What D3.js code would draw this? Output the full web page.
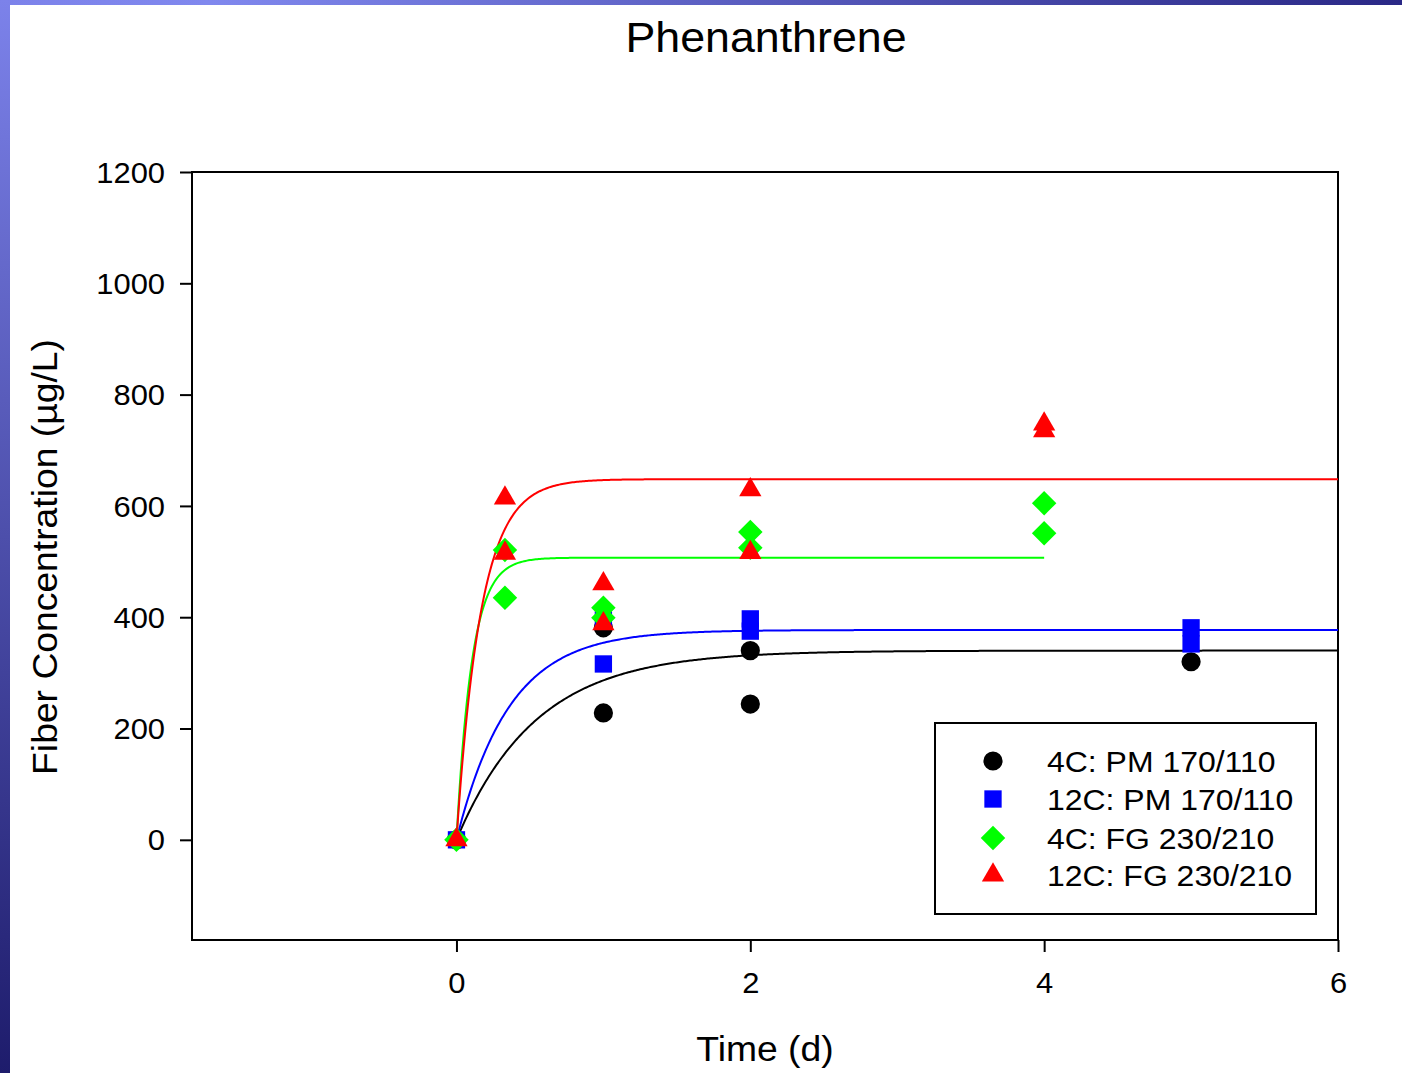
<!DOCTYPE html>
<html>
<head>
<meta charset="utf-8">
<script src="https://cdn.jsdelivr.net/npm/d3@7"></script>
<style>
  body { margin: 0; background: #fff; }
  svg text { font-family: Arial, "Liberation Sans", sans-serif; fill: #000; }
</style>
</head>
<body>
<div id="chart"></div>
<script>
// series names, colours and symbols
const seriesNames = ['4C: PM 170/110', '12C: PM 170/110', '4C: FG 230/210', '12C: FG 230/210'];
const seriesColors = ['#000000', '#0000ff', '#00ff00', '#ff0000'];

// measured points [time (d), concentration (ug/L)]
const pm4 = [[0, 0], [1, 381], [1, 228], [2, 340], [2, 244], [5, 320]];
const pm12 = [[0, 0], [1, 395], [1, 316], [2, 397], [2, 375], [5, 381], [5, 352]];
const fg4 = [[0, 0], [0.33, 521], [0.33, 435], [1, 417], [1, 399], [2, 553], [2, 525], [4, 605], [4, 551]];
const fg12 = [[0, 0], [0.33, 614], [0.33, 515], [1, 460], [1, 388], [2, 629], [2, 516], [4, 747], [4, 735]];

// fitted first-order uptake: C = Cmax * (1 - exp(-k t)), drawn to tEnd
const fitCmax = [340, 377, 507, 648];
const fitK = [1.85, 2.8, 9.5, 6.0];
const fitEnd = [6, 6, 4, 6];

const xTicks = [0, 2, 4, 6];
const yTicks = [0, 200, 400, 600, 800, 1000, 1200];

const W = 1402, H = 1073;
const plot = { left: 192, right: 1338, top: 172, bottom: 940 };
const stretch = 1.065; // glyphs in the original are a little wider than Arial

const svg = d3.select('#chart').append('svg')
  .attr('width', W)
  .attr('height', H);

// slide-style frame strips
const defs = svg.append('defs');
const gLeft = defs.append('linearGradient').attr('id', 'gl')
  .attr('x1', '0%').attr('y1', '0%').attr('x2', '0%').attr('y2', '100%');
gLeft.append('stop').attr('offset', '0%').attr('stop-color', '#7c82ea');
gLeft.append('stop').attr('offset', '100%').attr('stop-color', '#1e1c6c');
const gTop = defs.append('linearGradient').attr('id', 'gt')
  .attr('x1', '0%').attr('y1', '0%').attr('x2', '100%').attr('y2', '0%');
gTop.append('stop').attr('offset', '0%').attr('stop-color', '#7c82ea');
gTop.append('stop').attr('offset', '15%').attr('stop-color', '#8088ee');
gTop.append('stop').attr('offset', '100%').attr('stop-color', '#2a2886');

svg.append('rect').attr('x', 0).attr('y', 0).attr('width', W).attr('height', 5).attr('fill', 'url(#gt)');
svg.append('rect').attr('x', 0).attr('y', 0).attr('width', 10).attr('height', H).attr('fill', 'url(#gl)');

const x = d3.scaleLinear().domain([-1.8, 6]).range([plot.left, plot.right]);
const y = d3.scaleLinear().domain([-180, 1200]).range([plot.bottom, plot.top]);

// title
svg.append('text')
  .attr('x', 766)
  .attr('y', 52)
  .attr('text-anchor', 'middle')
  .attr('font-size', 42)
  .text('Phenanthrene');

// axes
const xAxis = svg.append('g')
  .attr('transform', `translate(0,${plot.bottom})`)
  .call(d3.axisBottom(x).tickValues(xTicks).tickFormat(d3.format('d')).tickSize(12).tickPadding(20));
const yAxis = svg.append('g')
  .attr('transform', `translate(${plot.left},0)`)
  .call(d3.axisLeft(y).tickValues(yTicks).tickFormat(d3.format('d')).tickSize(12).tickPadding(15));

[xAxis, yAxis].forEach(a => {
  a.select('.domain').remove();
  a.selectAll('.tick line').attr('stroke', '#000').attr('stroke-width', 2);
  a.selectAll('.tick text')
    .attr('font-size', 29)
    .attr('font-family', 'Arial, "Liberation Sans", sans-serif')
    .attr('fill', '#000');
});
yAxis.selectAll('.tick text').attr('dy', '0.35em');

// plot frame
svg.append('rect')
  .attr('x', plot.left)
  .attr('y', plot.top)
  .attr('width', plot.right - plot.left)
  .attr('height', plot.bottom - plot.top)
  .attr('fill', 'none')
  .attr('stroke', '#000')
  .attr('stroke-width', 2);

// axis labels
svg.append('text')
  .attr('x', 765)
  .attr('y', 1061)
  .attr('text-anchor', 'middle')
  .attr('font-size', 35)
  .text('Time (d)');
svg.append('text')
  .attr('transform', 'translate(57,557) rotate(-90)')
  .attr('text-anchor', 'middle')
  .attr('font-size', 35)
  .text('Fiber Concentration (\u00b5g/L)');

// fitted curves
const line = d3.line().x(d => x(d[0])).y(d => y(d[1]));
const g = svg.append('g');
fitCmax.forEach((cmax, i) => {
  const pts = d3.range(0, fitEnd[i] + 0.001, 0.01).map(t => [t, cmax * (1 - Math.exp(-fitK[i] * t))]);
  g.append('path')
    .attr('d', line(pts))
    .attr('fill', 'none')
    .attr('stroke', seriesColors[i])
    .attr('stroke-width', 2);
});

// symbols
const symbolGen = [
  d3.symbol().type(d3.symbolCircle).size(290),
  d3.symbol().type(d3.symbolSquare).size(300),
  d3.symbol().type(d3.symbolSquare).size(300),
  d3.symbol().type(d3.symbolTriangle).size(215)
];
const symbolRot = [0, 0, 45, 0];
const allSeries = [pm4, pm12, fg4, fg12];

allSeries.forEach((data, i) => {
  g.selectAll(null)
    .data(data)
    .join('path')
    .attr('d', symbolGen[i]())
    .attr('transform', d => `translate(${x(d[0])},${y(d[1])}) rotate(${symbolRot[i]})`)
    .attr('fill', seriesColors[i]);
});

// legend
const legend = svg.append('g');
legend.append('rect')
  .attr('x', 935).attr('y', 723)
  .attr('width', 381).attr('height', 191)
  .attr('fill', '#fff')
  .attr('stroke', '#000')
  .attr('stroke-width', 2);
const rowY = [761, 799, 838, 875];
seriesNames.forEach((name, i) => {
  legend.append('path')
    .attr('d', symbolGen[i]())
    .attr('transform', `translate(993,${rowY[i]}) rotate(${symbolRot[i]})`)
    .attr('fill', seriesColors[i]);
  legend.append('text')
    .attr('x', 1047)
    .attr('y', rowY[i] + 11)
    .attr('font-size', 30)
    .text(name);
});

// widen every label a touch to match the original's wider glyphs
svg.selectAll('text').each(function () {
  const len = this.getComputedTextLength();
  d3.select(this)
    .attr('textLength', len * stretch)
    .attr('lengthAdjust', 'spacingAndGlyphs');
});
</script>
</body>
</html>
